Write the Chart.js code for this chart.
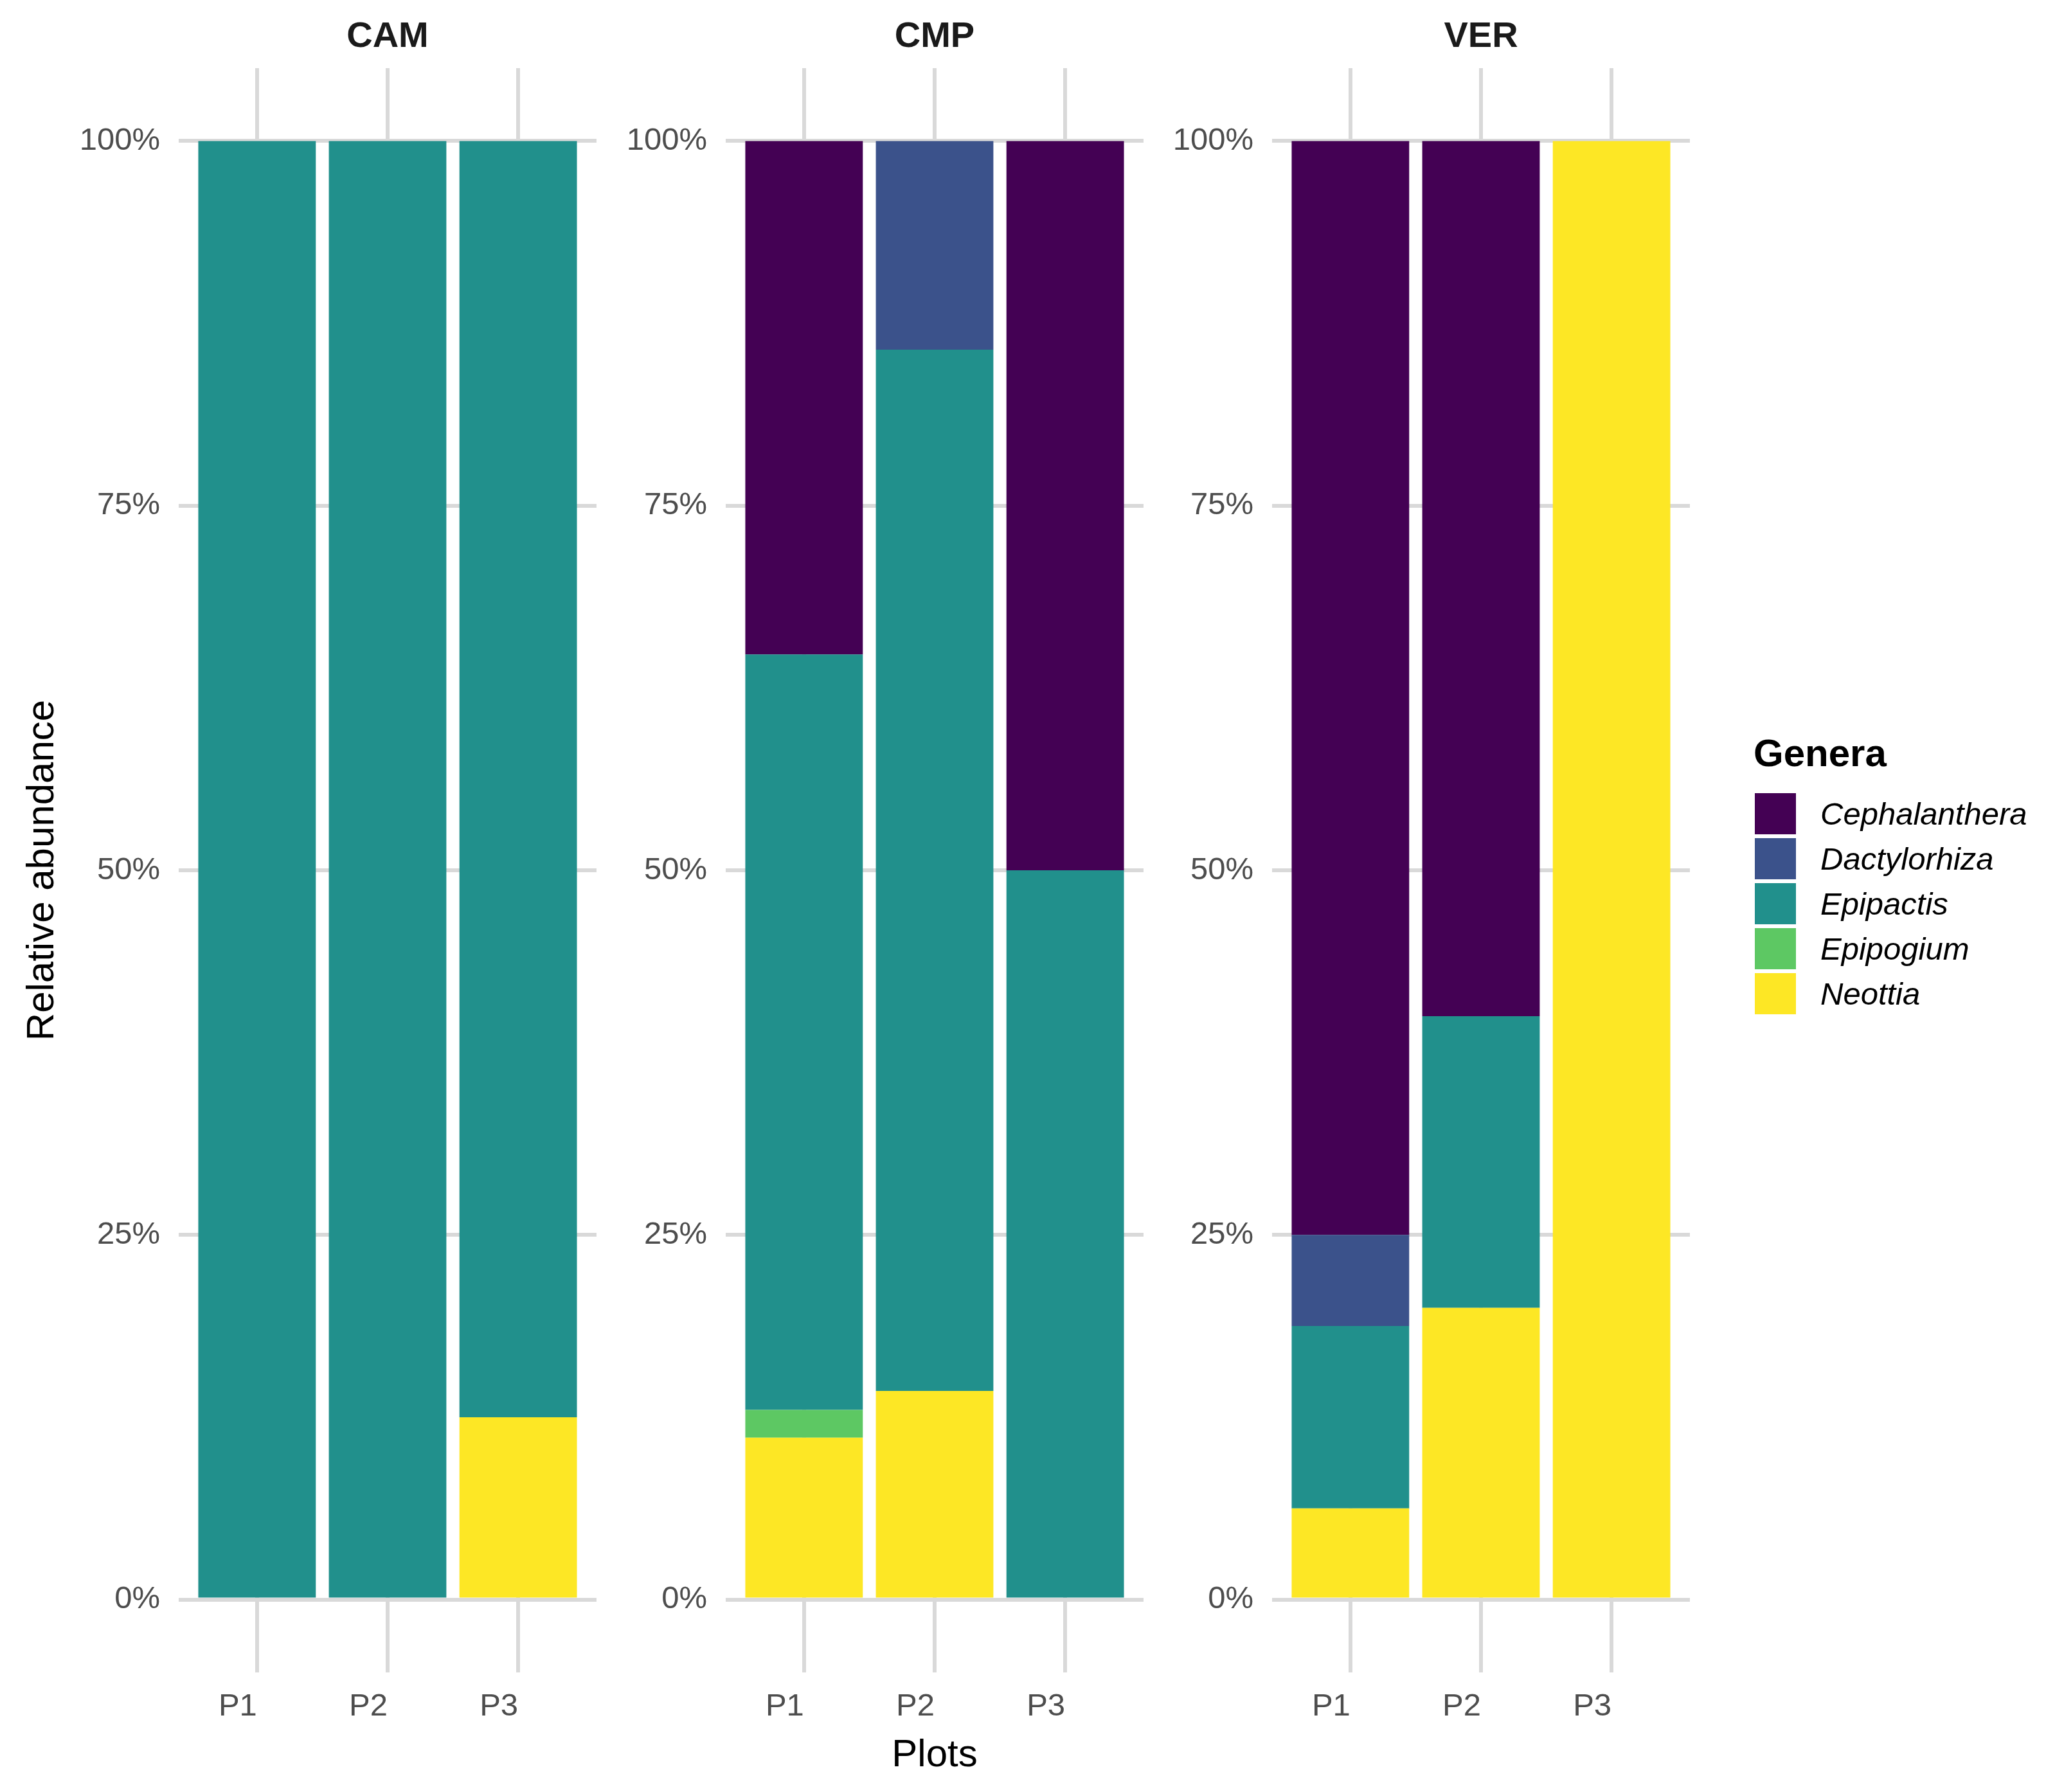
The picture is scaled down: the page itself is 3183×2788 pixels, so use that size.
<!DOCTYPE html>
<html>
<head>
<meta charset="utf-8">
<script src="https://cdn.jsdelivr.net/npm/chart.js@4/dist/chart.umd.min.js"></script>
<style>
  html, body { margin: 0; padding: 0; background: #fff; }
  #wrap { position: relative; width: 3183px; height: 2788px; font-family: "Liberation Sans", Arial, sans-serif; }
  #wrap canvas { position: absolute; top: 0; }
  .leg-title { position: absolute; left: 2728px; top: 1136px; font-size: 60px; font-weight: bold; line-height: 72px; color: #000; }
  .leg-box { position: absolute; left: 2730px; width: 64px; height: 64px; }
  .leg-label { position: absolute; left: 2832px; height: 64px; line-height: 64px; font-size: 49px; font-style: italic; color: #000; white-space: nowrap; }
</style>
</head>
<body>
<div id="wrap"></div>
<script>
// ── Data ──
const panels = ["CAM", "CMP", "VER"];
const plots  = ["P1", "P2", "P3"];
const genera = ["Cephalanthera", "Dactylorhiza", "Epipactis", "Epipogium", "Neottia"];
const colors = ["#440154", "#3B528B", "#21908C", "#5DC863", "#FDE725"];
const yTicks = [0, 25, 50, 75, 100];

// relative abundance (%) per panel -> [P1, P2, P3]
const cephalanthera = [[0, 0, 0],     [35.2, 0, 50],    [75, 60, 0]];
const dactylorhiza  = [[0, 0, 0],     [0, 14.3, 0],     [6.25, 0, 0]];
const epipactis     = [[100, 100, 87.5], [51.8, 71.4, 50], [12.5, 20, 0]];
const epipogium     = [[0, 0, 0],     [1.9, 0, 0],      [0, 0, 0]];
const neottia       = [[0, 0, 12.5],  [11.1, 14.3, 0],  [6.25, 20, 100]];
const series = [cephalanthera, dactylorhiza, epipactis, epipogium, neottia];

const xTitle = "Plots";
const yTitle = "Relative abundance";
const legendTitle = "Genera";

// ── Layout ──
const FONT  = '"Liberation Sans", Arial, sans-serif';
const GRID  = "#D9D9D9";
const TICK  = "#4D4D4D";
const H     = 2788;
const axisW = 278, plotW = 650, padR = 6;
const panelLeft = [278, 1129, 1979];

const wrap = document.getElementById("wrap");

function makePanel(p) {
  const c = document.createElement("canvas");
  const w = axisW + plotW + padR;
  c.width = w; c.height = H;
  c.style.left = (panelLeft[p] - axisW) + "px";
  c.style.width = w + "px"; c.style.height = H + "px";
  wrap.appendChild(c);

  // Chart.js stacks the first dataset at the bottom, ggplot puts the first level on top
  const order = [4, 3, 2, 1, 0];
  const datasets = order.map(g => ({
    label: genera[g],
    data: plots.map((_, i) => ({ x: i + 1, y: series[g][p][i] })),
    backgroundColor: colors[g],
    borderWidth: 0,
    barPercentage: 0.9,
    categoryPercentage: 1
  }));

  new Chart(c, {
    type: "bar",
    data: { datasets },
    options: {
      responsive: false,
      devicePixelRatio: 1,
      animation: false,
      layout: { padding: { left: 0, right: padR, top: 0, bottom: 0 } },
      plugins: { legend: { display: false }, tooltip: { enabled: false } },
      scales: {
        x: {
          type: "linear", position: "bottom", min: 0.4, max: 3.6, stacked: true, offset: false,
          afterBuildTicks: s => { s.ticks = plots.map((_, i) => ({ value: i + 1 })); },
          afterFit: s => { s.height = 186; },
          grid: { color: GRID, lineWidth: 6, drawTicks: false, offset: false },
          border: { display: false },
          ticks: {
            callback: v => plots[v - 1], autoSkip: false, maxRotation: 0, align: "end",
            font: { family: FONT, size: 49 }, color: TICK, padding: 24
          },
          title: {
            display: p === 1, text: xTitle, color: "#000",
            font: { family: FONT, size: 60 }, padding: { top: 0, bottom: 21 }
          }
        },
        strip: {
          type: "linear", position: "top", min: 0, max: 1,
          afterFit: s => { s.height = 106; },
          grid: { display: false, drawTicks: false },
          border: { display: false },
          ticks: { display: false },
          title: {
            display: true, text: panels[p], color: "#1A1A1A",
            font: { family: FONT, size: 56, weight: "bold" }, padding: { top: 24, bottom: 0 }
          }
        },
        y: {
          min: -5, max: 105, stacked: true,
          afterBuildTicks: s => { s.ticks = yTicks.map(v => ({ value: v })); },
          afterFit: s => { s.width = axisW; },
          grid: { color: GRID, lineWidth: 6, drawTicks: false },
          border: { display: false },
          ticks: { callback: v => v + "%", font: { family: FONT, size: 49 }, color: TICK, padding: 29 },
          title: {
            display: p === 0, text: yTitle, color: "#000",
            font: { family: FONT, size: 60 }, padding: { top: 30, bottom: 0 }
          }
        }
      }
    }
  });
}

panels.forEach((_, p) => makePanel(p));

// ── Legend ──
const lt = document.createElement("div");
lt.className = "leg-title"; lt.textContent = legendTitle;
wrap.appendChild(lt);
genera.forEach((g, i) => {
  const top = 1234 + i * 70;
  const b = document.createElement("div");
  b.className = "leg-box"; b.style.top = top + "px"; b.style.background = colors[i];
  const l = document.createElement("div");
  l.className = "leg-label"; l.style.top = top + "px"; l.textContent = g;
  wrap.appendChild(b); wrap.appendChild(l);
});
</script>
</body>
</html>
